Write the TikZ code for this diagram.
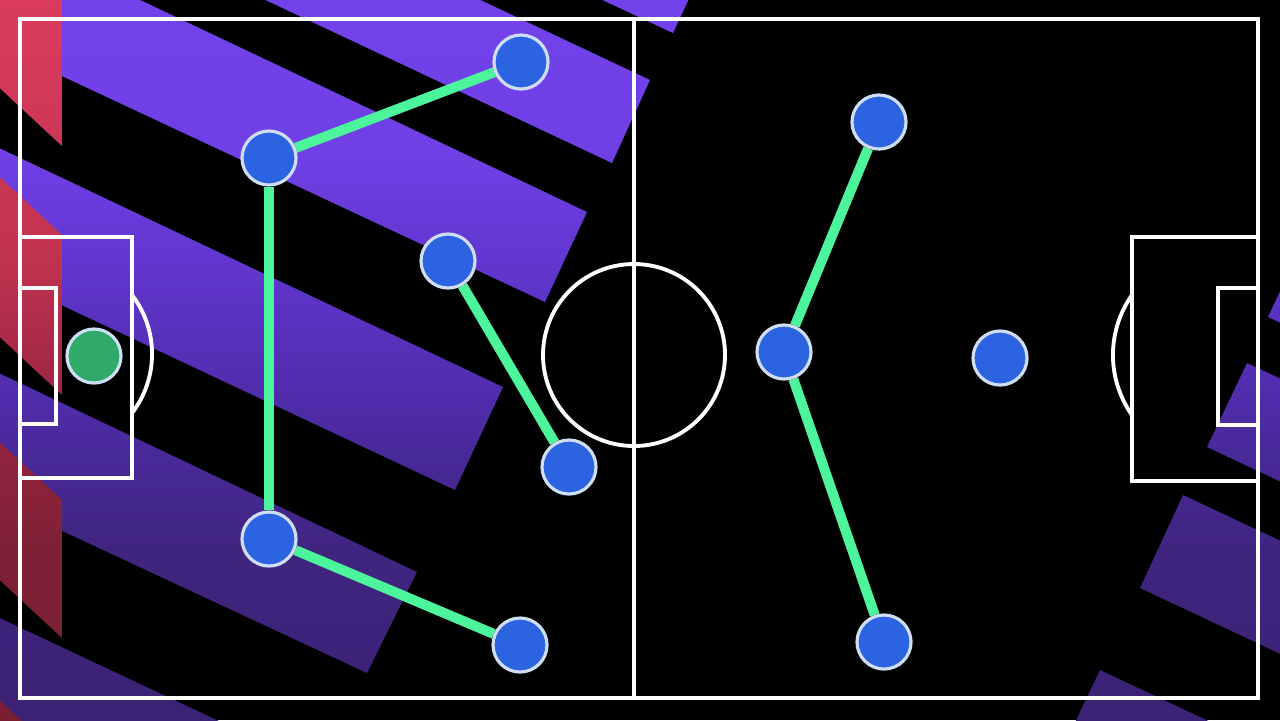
\documentclass[tikz,border=0pt]{standalone}
\pgfdeclarelayer{bg}
\pgfdeclarelayer{links}
\pgfsetlayers{bg,links,main}
\definecolor{bluec}{RGB}{44,99,225}
\definecolor{rimc}{RGB}{207,221,245}
\definecolor{greenc}{RGB}{47,170,104}
\definecolor{linkc}{RGB}{76,245,155}
\definecolor{puA}{RGB}{114,65,234}
\definecolor{puB}{RGB}{112,64,230}
\definecolor{puC}{RGB}{99,55,210}
\definecolor{puD}{RGB}{85,48,184}
\definecolor{puE}{RGB}{72,41,154}
\definecolor{puF}{RGB}{64,37,127}
\definecolor{puG}{RGB}{58,34,116}
\definecolor{rdA}{RGB}{218,59,94}
\definecolor{rdB}{RGB}{194,52,81}
\definecolor{rdC}{RGB}{154,37,65}
\definecolor{rdD}{RGB}{126,32,53}
\definecolor{rdE}{RGB}{122,31,51}
\pgfdeclareverticalshading{purpleshade}{100bp}{color(0bp)=(puG); color(25bp)=(puG); color(36.8bp)=(puF); color(43.75bp)=(puE); color(50.7bp)=(puD); color(57.6bp)=(puC); color(64.6bp)=(puB); color(75bp)=(puA); color(100bp)=(puA)}
\pgfdeclareverticalshading{redshade}{100bp}{color(0bp)=(rdE); color(25bp)=(rdE); color(36.8bp)=(rdD); color(47.2bp)=(rdC); color(57.6bp)=(rdB); color(75bp)=(rdA); color(100bp)=(rdA)}
\begin{document}
\begin{tikzpicture}[x=0.01cm,y=-0.01cm,
  player/.style={circle, draw=rimc, line width=0.9pt, fill=bluec, minimum size=5.4mm, inner sep=0pt},
  keeper/.style={player, fill=greenc},
  link/.style={draw=linkc, line width=2.85pt},
  pitch/.style={draw=white, line width=1.1pt}]
\useasboundingbox (0,0) rectangle (1280,720);
\begin{pgfonlayer}{bg}
\clip (0,0) rectangle (1280,720);
\fill[black] (0,0) rectangle (1280,720);
% purple stripes
\begin{scope}
\clip (200,-188) -- (673,33) -- (715,-57) -- (200,-299) -- cycle
      (-60,-255) -- (650,80) -- (612,163) -- (-60,-153) -- cycle
      (-60,-95) -- (587,212) -- (545,302) -- (-60,19) -- cycle
      (-60,120) -- (503,387) -- (455,490) -- (-60,248) -- cycle
      (-60,345) -- (417,572) -- (367,673) -- (-60,474) -- cycle
      (-60,590) -- (400,806) -- (350,912) -- (-60,712) -- cycle
      (1268,317) -- (1310,227) -- (1500,316) -- (1458,406) -- cycle
      (1247,363) -- (1400,435) -- (1400,538) -- (1207,447) -- cycle
      (1183,495) -- (1400,597) -- (1400,710) -- (1140,588) -- cycle
      (1100,670) -- (1400,811) -- (1400,920) -- (1057,760) -- cycle;
\shade[shading=purpleshade] (0,0) rectangle (1280,720);
\end{scope}
% red stripes
\begin{scope}
\clip (-10,-10) -- (62,-10) -- (62,146) -- (-10,79) -- cycle
      (-10,168) -- (62,235) -- (62,395) -- (-10,328) -- cycle
      (-10,433) -- (62,500) -- (62,638) -- (-10,571) -- cycle
      (-10,691) -- (62,758) -- (62,800) -- (-10,800) -- cycle;
\shade[shading=redshade] (-10,0) rectangle (62,720);
\end{scope}
% pitch
\draw[pitch] (20,19) rectangle (1258,698);
\draw[pitch] (634,19) -- (634,698);
\draw[pitch] (634,355) circle[radius=91];
\draw[pitch] (20,237) rectangle (132,478);
\draw[pitch] (20,288) rectangle (56,424);
\draw[pitch] (132,295) arc[start angle=-37.5, end angle=37.5, radius=97];
\draw[pitch] (1132,237) rectangle (1258,481);
\draw[pitch] (1218,288) rectangle (1258,425);
\draw[pitch] (1132,295) arc[start angle=215.25, end angle=144.75, radius=104];
\end{pgfonlayer}
% players
\node[keeper] (gk) at (94,356) {};
\node[player] (p1) at (521,62) {};
\node[player] (p2) at (269,158) {};
\node[player] (p3) at (448,261) {};
\node[player] (p4) at (569,467) {};
\node[player] (p5) at (269,539) {};
\node[player] (p6) at (520,645) {};
\node[player] (p7) at (879,122) {};
\node[player] (p8) at (784,352) {};
\node[player] (p9) at (1000,358) {};
\node[player] (p10) at (884,642) {};
\begin{pgfonlayer}{links}
\draw[link] (p1) -- (p2);
\draw[link] (p2) -- (p5);
\draw[link] (p5) -- (p6);
\draw[link] (p3) -- (p4);
\draw[link] (p7) -- (p8);
\draw[link] (p8) -- (p10);
\end{pgfonlayer}
\end{tikzpicture}
\end{document}
